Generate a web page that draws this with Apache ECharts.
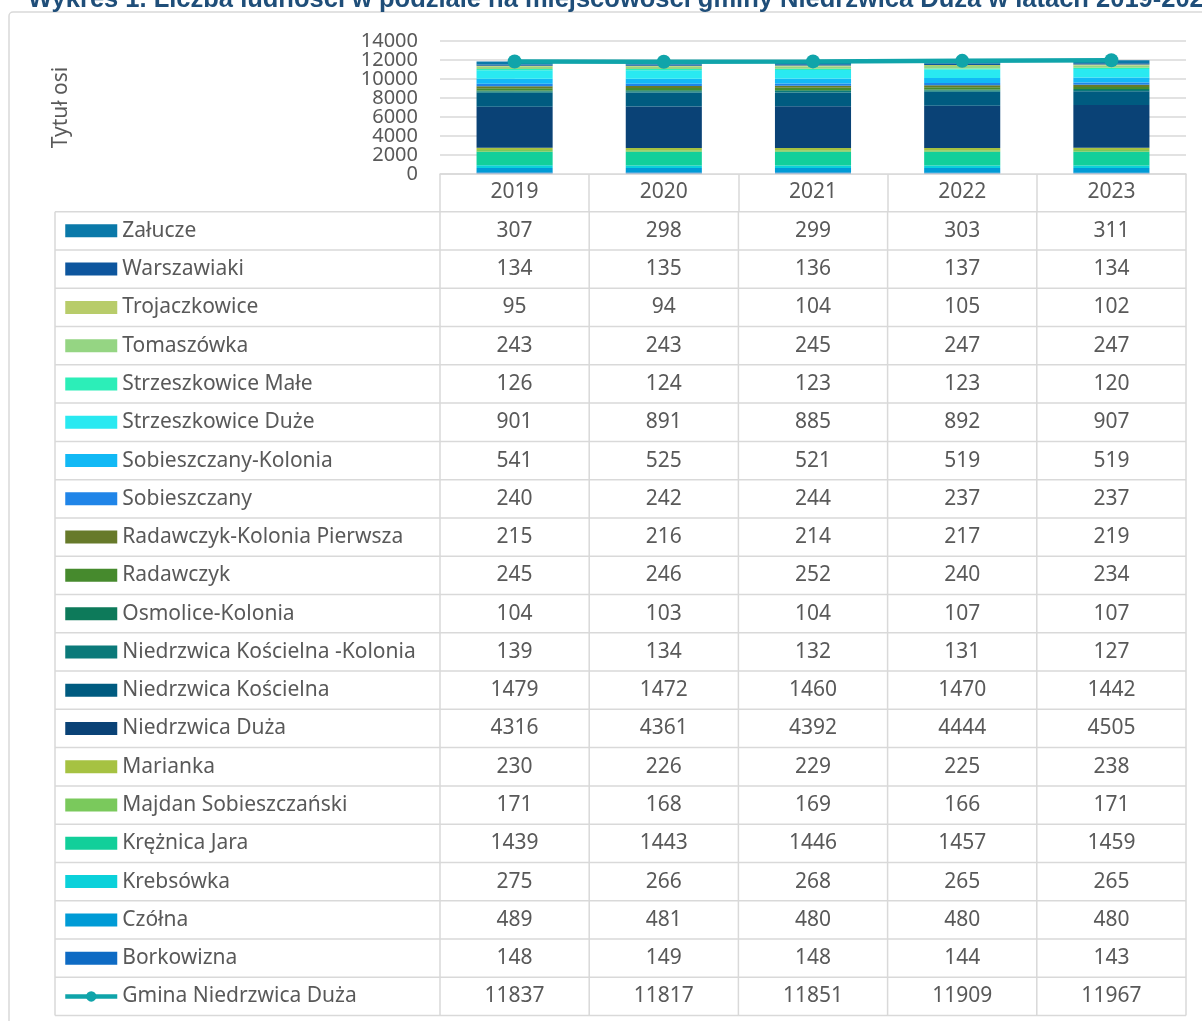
<!DOCTYPE html>
<html>
<head>
<meta charset="utf-8">
<script src="https://cdn.jsdelivr.net/npm/echarts@6/dist/echarts.min.js"></script>
<style>
html,body{margin:0;padding:0;background:#fff}
#chart{width:1202px;height:1021px}
</style>
</head>
<body>
<div id="chart"></div>
<script>
// dane
var years = ['2019', '2020', '2021', '2022', '2023'];
var yTicks = [0, 2000, 4000, 6000, 8000, 10000, 12000, 14000];

var zalucze      = [307, 298, 299, 303, 311];
var warszawiaki  = [134, 135, 136, 137, 134];
var trojaczkow   = [95, 94, 104, 105, 102];
var tomaszowka   = [243, 243, 245, 247, 247];
var strzMale     = [126, 124, 123, 123, 120];
var strzDuze     = [901, 891, 885, 892, 907];
var sobKolonia   = [541, 525, 521, 519, 519];
var sobieszczany = [240, 242, 244, 237, 237];
var radKolonia   = [215, 216, 214, 217, 219];
var radawczyk    = [245, 246, 252, 240, 234];
var osmolice     = [104, 103, 104, 107, 107];
var nkKolonia    = [139, 134, 132, 131, 127];
var nKoscielna   = [1479, 1472, 1460, 1470, 1442];
var nDuza        = [4316, 4361, 4392, 4444, 4505];
var marianka     = [230, 226, 229, 225, 238];
var majdan       = [171, 168, 169, 166, 171];
var kreznica     = [1439, 1443, 1446, 1457, 1459];
var krebsowka    = [275, 266, 268, 265, 265];
var czolna       = [489, 481, 480, 480, 480];
var borkowizna   = [148, 149, 148, 144, 143];
var gminaTotal   = [11837, 11817, 11851, 11909, 11967];

var places = ['Załucze', 'Warszawiaki', 'Trojaczkowice', 'Tomaszówka', 'Strzeszkowice Małe',
  'Strzeszkowice Duże', 'Sobieszczany-Kolonia', 'Sobieszczany', 'Radawczyk-Kolonia Pierwsza',
  'Radawczyk', 'Osmolice-Kolonia', 'Niedrzwica Kościelna -Kolonia', 'Niedrzwica Kościelna',
  'Niedrzwica Duża', 'Marianka', 'Majdan Sobieszczański', 'Krężnica Jara', 'Krebsówka',
  'Czółna', 'Borkowizna'];
var placeValues = [zalucze, warszawiaki, trojaczkow, tomaszowka, strzMale, strzDuze, sobKolonia,
  sobieszczany, radKolonia, radawczyk, osmolice, nkKolonia, nKoscielna, nDuza, marianka, majdan,
  kreznica, krebsowka, czolna, borkowizna];
var totalName = 'Gmina Niedrzwica Duża';

// style
var colors = ['#0a79a9', '#0d569e', '#b8cc6a', '#95d583', '#2ceeb8', '#29e9f1', '#12b9f5',
  '#2085e8', '#677a2a', '#468a2d', '#0d7a5a', '#0b7a7a', '#005b80', '#0a4276', '#a6c242',
  '#7ac95c', '#12cf9a', '#0bd1da', '#009bd6', '#0e6bc4'];
var lineColor = '#10a4aa';
var FONT = 'Noto Sans';
var FS = 21;
var txt = '#595959';
var border = '#d9d9d9';

var tableLeft = 55, tableTop = 211.7, rowH = 38.28;

var series = [];
// biale tlo pod linia (jak w oryginale z Excela)
series.push({
  name: '_area', type: 'line', data: gminaTotal, symbol: 'none', silent: true,
  lineStyle: {width: 0}, areaStyle: {color: '#fff', opacity: 1}, z: 1
});
for (var i = places.length - 1; i >= 0; i--) {
  series.push({
    name: places[i], type: 'bar', stack: 'all', barWidth: '51%',
    data: placeValues[i], itemStyle: {color: colors[i]}, z: 2,
    emphasis: {disabled: true}
  });
}
series.push({
  name: totalName, type: 'line', data: gminaTotal, symbol: 'circle', symbolSize: 14,
  lineStyle: {width: 4.5, color: lineColor}, itemStyle: {color: lineColor}, z: 4
});

var legendData = places.map(function (p) { return {name: p, icon: 'rect'}; });
legendData.push({name: totalName, lineStyle: {width: 4.5}, itemStyle: {color: lineColor}});

var option = {
  animation: false,
  title: {
    text: 'Wykres 1. Liczba ludności w podziale na miejscowości gminy Niedrzwica Duża w latach 2019-2023',
    left: 28, top: -13, padding: 0,
    textStyle: {fontFamily: 'Liberation Sans', fontSize: 25.5, fontWeight: 'bold', color: '#1f4e79'}
  },
  legend: {
    data: legendData, orient: 'vertical', left: 63, top: tableTop + (rowH - 22) / 2,
    padding: 0, itemWidth: 52, itemHeight: 13, itemGap: rowH - 22, itemTextGap: 5,
    selectedMode: false,
    textStyle: {fontFamily: FONT, fontSize: FS, color: txt, lineHeight: 22}
  },
  grid: {left: 440, right: 16, top: 41, bottom: 847},
  xAxis: {
    type: 'category', data: years, z: 5,
    axisLine: {lineStyle: {color: border, width: 1.5}},
    axisTick: {show: true, length: tableTop - 174, lineStyle: {color: border, width: 1.5}},
    axisLabel: {fontFamily: FONT, fontSize: FS, color: txt, margin: 8}
  },
  yAxis: {
    type: 'value', min: yTicks[0], max: yTicks[yTicks.length - 1], interval: yTicks[1] - yTicks[0],
    name: 'Tytuł osi', nameLocation: 'middle', nameGap: 368, nameRotate: 90,
    nameTextStyle: {fontFamily: FONT, fontSize: FS, color: txt},
    axisLine: {show: false}, axisTick: {show: false},
    axisLabel: {show: false},
    splitLine: {lineStyle: {color: border, width: 1.5}}
  },
  series: series
};

var chart = echarts.init(document.getElementById('chart'));
chart.setOption(option);

var els = [];
// etykiety osi Y (gesto, bez ukrywania nakladajacych sie)
yTicks.forEach(function (t) {
  els.push({type: 'text', x: 418, y: chart.convertToPixel({yAxisIndex: 0}, t),
    style: {text: String(t), align: 'right', verticalAlign: 'middle',
      fontFamily: FONT, fontSize: 20, fill: txt}});
});

// tabela danych pod wykresem
var cx = years.map(function (y, k) { return chart.convertToPixel({xAxisIndex: 0}, k); });
var band = cx[1] - cx[0];
var right = cx[cx.length - 1] + band / 2;
var nRows = places.length + 1;
var bottom = tableTop + nRows * rowH;
els.push({type: 'rect', shape: {x: 9, y: 12, width: 1230, height: 1060, r: 4},
  style: {fill: null, stroke: border, lineWidth: 1.5}, silent: true});
for (var r = 0; r <= nRows; r++) {
  var yy = tableTop + r * rowH;
  els.push({type: 'line', shape: {x1: tableLeft, y1: yy, x2: right, y2: yy},
    style: {stroke: border, lineWidth: 1.5}});
}
els.push({type: 'line', shape: {x1: tableLeft, y1: tableTop, x2: tableLeft, y2: bottom},
  style: {stroke: border, lineWidth: 1.5}});
for (var c = 0; c <= years.length; c++) {
  var xx = cx[0] - band / 2 + c * band;
  els.push({type: 'line', shape: {x1: xx, y1: tableTop, x2: xx, y2: bottom},
    style: {stroke: border, lineWidth: 1.5}});
}
var rows = placeValues.concat([gminaTotal]);
rows.forEach(function (vals, r) {
  vals.forEach(function (v, k) {
    els.push({type: 'text', x: cx[k], y: tableTop + r * rowH + rowH / 2,
      style: {text: String(v), align: 'center', verticalAlign: 'middle',
        fontFamily: FONT, fontSize: FS, fill: txt}});
  });
});
chart.setOption({graphic: els});
</script>
</body>
</html>
